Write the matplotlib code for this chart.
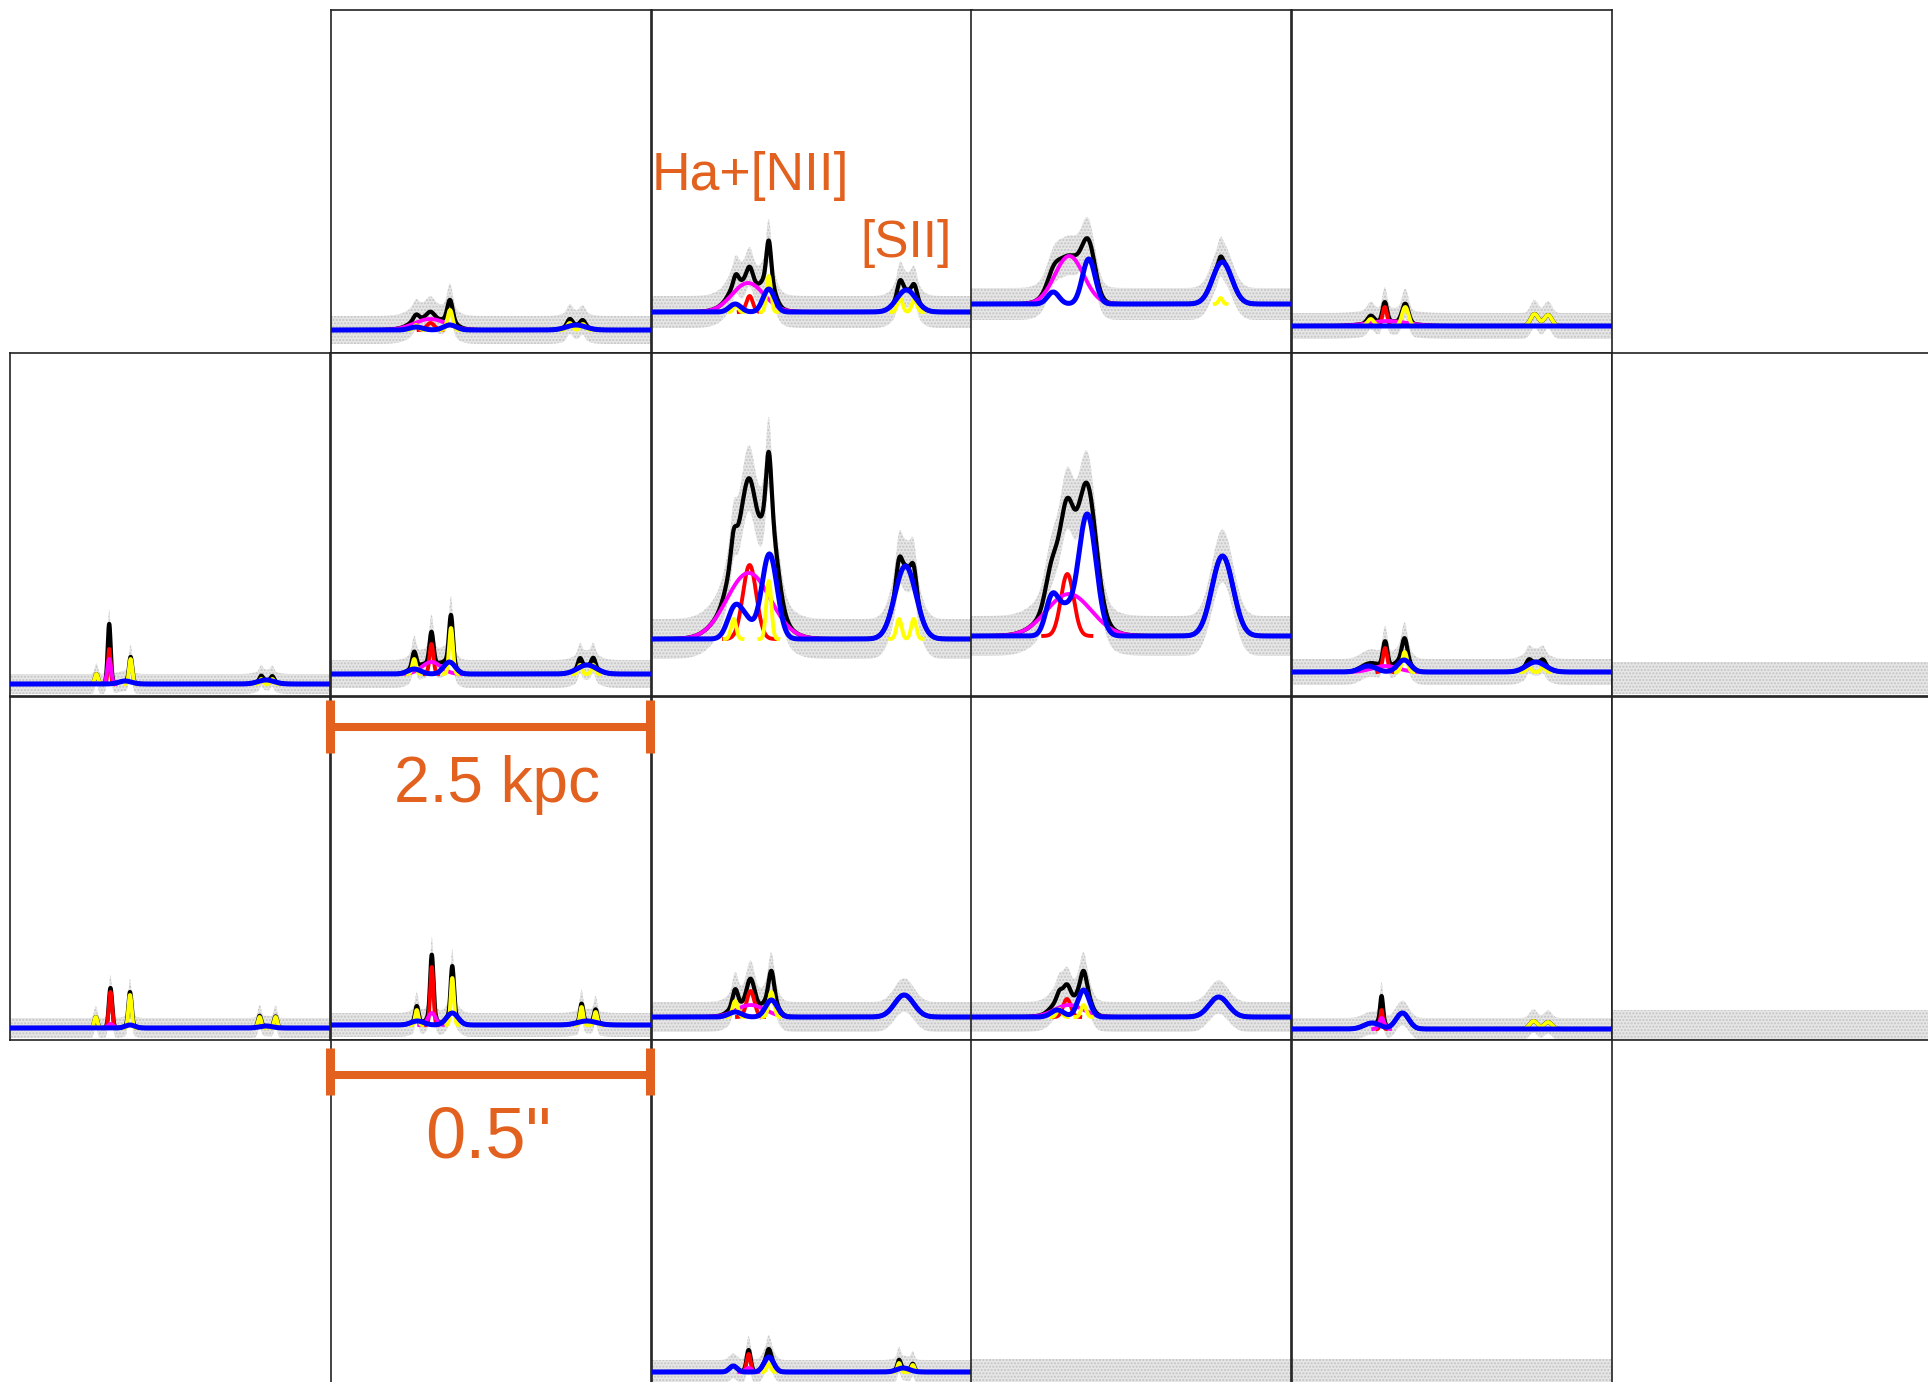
import numpy as np
import matplotlib.pyplot as plt

plt.rcParams['font.family'] = ['Liberation Sans', 'DejaVu Sans']

W, H = 1928, 1382
ORANGE = '#e2611e'

# mosaic cells (row, col) that hold a spectrum panel
cells = [(0, 1), (0, 2), (0, 3), (0, 4),
         (1, 0), (1, 1), (1, 2), (1, 3), (1, 4), (1, 5),
         (2, 0), (2, 1), (2, 2), (2, 3), (2, 4), (2, 5),
         (3, 1), (3, 2), (3, 3), (3, 4)]

# continuum level and noise (flux units, panel is 343 units tall); None = no spectrum
continuum = [23, 41, 49, 27, 12, 22, 57, 60, 24, 18,
             12, 15, 23, 23, 11, 15, None, 11, 10, 10]
noise = [14, 16, 16, 13, 10, 14, 20, 20, 13, 16,
         10, 12, 15, 15, 11, 15, 0, 12, 14, 14]

# gaussian components (centre, sigma, amplitude); centre in units of panel width
broad_ha = [  # magenta
    [(0.31, 0.05, 11)], [(0.30, 0.05, 29)], [(0.307, 0.045, 48)], [(0.30, 0.06, 5)],
    [(0.31, 0.006, 25)], [(0.314, 0.03, 12)], [(0.302, 0.068, 66)], [(0.306, 0.07, 42)],
    [(0.291, 0.04, 6)], [],
    [(0.314, 0.008, 4)], [(0.315, 0.012, 12)], [(0.308, 0.045, 12)], [(0.306, 0.045, 12)],
    [(0.28, 0.008, 11)], [],
    [], [(0.302, 0.01, 4)], [], []]
narrow_ha = [  # red
    [(0.311, 0.012, 7)], [(0.305, 0.01, 16)], [], [(0.29, 0.007, 19)],
    [(0.31, 0.004, 35)], [(0.314, 0.006, 30)], [(0.305, 0.021, 74)], [(0.301, 0.02, 62)],
    [(0.291, 0.007, 24)], [],
    [(0.314, 0.005, 36)], [(0.315, 0.005, 58)], [(0.308, 0.012, 26)], [(0.30, 0.012, 18)],
    [(0.28, 0.004, 19)], [],
    [], [(0.302, 0.006, 18)], [], []]
narrow_nii_sii = [  # yellow
    [(0.266, 0.008, 5), (0.372, 0.008, 20), (0.746, 0.008, 7), (0.787, 0.008, 6)],
    [(0.262, 0.007, 8), (0.365, 0.007, 36), (0.775, 0.008, 14), (0.82, 0.008, 12)],
    [(0.78, 0.006, 6)],
    [(0.246, 0.01, 7), (0.354, 0.01, 19), (0.758, 0.012, 12), (0.80, 0.012, 11)],
    [(0.27, 0.005, 10), (0.377, 0.005, 25), (0.785, 0.005, 5), (0.82, 0.005, 5)],
    [(0.26, 0.006, 15), (0.375, 0.006, 46), (0.778, 0.006, 9), (0.82, 0.006, 9)],
    [(0.255, 0.008, 20), (0.365, 0.008, 58), (0.772, 0.008, 20), (0.818, 0.008, 20)],
    [],
    [(0.352, 0.008, 20), (0.74, 0.007, 5), (0.785, 0.007, 5)],
    [],
    [(0.268, 0.005, 11), (0.375, 0.005, 33), (0.78, 0.005, 11), (0.83, 0.005, 11)],
    [(0.268, 0.005, 15), (0.379, 0.005, 47), (0.783, 0.005, 18), (0.827, 0.005, 13)],
    [(0.26, 0.008, 16), (0.373, 0.008, 25)],
    [(0.276, 0.008, 8), (0.352, 0.008, 12)],
    [(0.755, 0.012, 8), (0.80, 0.012, 7)],
    [],
    [], [(0.365, 0.006, 8), (0.772, 0.005, 9), (0.815, 0.005, 7)], [], []]
second_comp = [  # blue
    [(0.266, 0.02, 3), (0.372, 0.02, 5), (0.766, 0.03, 5)],
    [(0.26, 0.018, 8), (0.365, 0.018, 23), (0.795, 0.03, 22)],
    [(0.257, 0.018, 12), (0.368, 0.02, 45), (0.785, 0.03, 42)],
    [],
    [(0.36, 0.02, 3), (0.80, 0.025, 4)],
    [(0.26, 0.02, 5), (0.37, 0.018, 12), (0.80, 0.03, 9)],
    [(0.258, 0.022, 30), (0.295, 0.022, 16), (0.367, 0.024, 85), (0.792, 0.033, 73)],
    [(0.254, 0.02, 40), (0.295, 0.02, 22), (0.363, 0.028, 122), (0.786, 0.033, 80)],
    [(0.238, 0.025, 6), (0.35, 0.02, 12), (0.762, 0.03, 10)],
    [],
    [(0.375, 0.015, 3), (0.80, 0.02, 2)],
    [(0.27, 0.02, 4), (0.379, 0.018, 12), (0.80, 0.03, 4)],
    [(0.26, 0.02, 5), (0.373, 0.018, 17), (0.788, 0.03, 22)],
    [(0.27, 0.02, 7), (0.352, 0.018, 27), (0.774, 0.03, 20)],
    [(0.25, 0.025, 6), (0.345, 0.02, 16)],
    [],
    [], [(0.254, 0.012, 6), (0.365, 0.015, 15), (0.785, 0.02, 4)], [], []]

# pixel layout of the mosaic
col_left = [10, 331, 652, 971, 1292, 1612]
row_top = [10, 353, 697, 1040]
pw, ph = 320, 343

x = np.linspace(0, 1, 2000)


def gauss(comps):
    y = np.zeros_like(x)
    for c, s, a in comps:
        y += a * np.exp(-0.5 * ((x - c) / s) ** 2)
    return y


def visible(y):
    # hide a component where it sits on the continuum
    return np.where(y > 0.05, y, np.nan)


fig = plt.figure(figsize=(W / 100, H / 100), dpi=100)

for i, (r, c) in enumerate(cells):
    ax = fig.add_axes([col_left[c] / W, 1 - (row_top[r] + ph) / H, pw / W, ph / H])
    ax.set_xlim(0, 1)
    ax.set_ylim(0, ph)
    ax.set_xticks([])
    ax.set_yticks([])
    for sp in ax.spines.values():
        sp.set_linewidth(1.2)
        sp.set_color('#222222')
    cont = continuum[i]
    if cont is None:
        continue
    mag = gauss(broad_ha[i])
    red = gauss(narrow_ha[i])
    yel = gauss(narrow_nii_sii[i])
    blu = gauss(second_comp[i])
    tot = mag + red + yel + blu
    n = noise[i] + 0.08 * tot
    # observed spectrum shown as a grey scatter band
    ax.fill_between(x, cont + tot - n, cont + tot + n, facecolor='#e6e6e6',
                    edgecolor='#c4c4c4', hatch='.....', linewidth=0, zorder=1)
    if not (broad_ha[i] or narrow_ha[i] or narrow_nii_sii[i] or second_comp[i]):
        continue
    ax.plot(x, cont + tot, color='black', lw=3.0, zorder=3)
    ax.plot(x, cont + visible(red), color='red', lw=2.8, zorder=4)
    ax.plot(x, cont + visible(mag), color='magenta', lw=2.8, zorder=5)
    ax.plot(x, cont + visible(yel), color='yellow', lw=2.8, zorder=6)
    ax.plot(x, cont + blu, color='blue', lw=3.6, zorder=7)

# annotation layer in pixel coordinates
ov = fig.add_axes([0, 0, 1, 1], zorder=10)
ov.set_xlim(0, W)
ov.set_ylim(H, 0)
ov.axis('off')

for ybar, ytop, ybot in [(727, 700, 753), (1075, 1048, 1095)]:
    ov.plot([330, 650], [ybar, ybar], color=ORANGE, lw=5.8, solid_capstyle='butt')
    for xc in (330, 650):
        ov.plot([xc, xc], [ytop, ybot], color=ORANGE, lw=6.5, solid_capstyle='butt')

ov.text(497, 802, '2.5 kpc', color=ORANGE, fontsize=46, ha='center', va='baseline')
ov.text(488, 1157, '0.5"', color=ORANGE, fontsize=52, ha='center', va='baseline')
ov.text(652, 190, 'Ha+[NII]', color=ORANGE, fontsize=38.5, ha='left', va='baseline')
ov.text(860, 257, '[SII]', color=ORANGE, fontsize=37, ha='left', va='baseline')

plt.savefig('out.png', dpi=100)
